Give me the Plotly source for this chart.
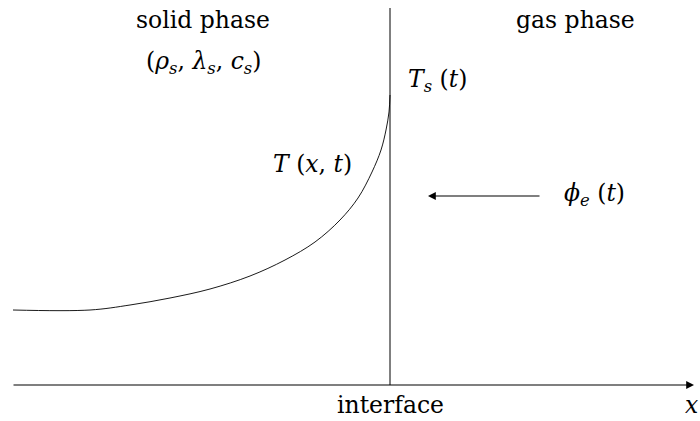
import plotly.graph_objects as go

# Temperature profile T(x,t) in the solid (schematic coordinates)
curve_x = [13, 90, 130, 170, 210, 250, 285, 315, 340, 358, 372, 381, 386, 389, 390]
curve_y = [310, 310, 305, 298, 289, 276, 260, 242, 220, 198, 172, 150, 130, 112, 95]

interface_x = [390, 390]
interface_y = [8, 385]

axis_start = (12, 385)
axis_end = (694, 385)
flux_start = (541, 196)
flux_end = (428, 196)

labels = [
    ("solid phase", 203, 20),
    ("(<i>ρ<sub>s</sub></i>, <i>λ<sub>s</sub></i>, <i>c<sub>s</sub></i>)", 203, 62),
    ("gas phase", 575, 20),
    ("<i>T<sub>s</sub></i> (<i>t</i>)", 437, 80),
    ("<i>T</i> (<i>x</i>, <i>t</i>)", 312, 164),
    ("<i>ϕ<sub>e</sub></i> (<i>t</i>)", 594, 194),
    ("interface", 390, 405),
    ("<i>x</i>", 691, 405),
]

FONT = "DejaVu Serif"
SIZE = 23.5

fig = go.Figure()
fig.add_trace(go.Scatter(x=curve_x, y=curve_y, mode="lines",
                         line=dict(color="black", width=0.9), line_shape="spline",
                         hoverinfo="skip"))
fig.add_trace(go.Scatter(x=interface_x, y=interface_y, mode="lines",
                         line=dict(color="black", width=1), hoverinfo="skip"))

for (x1, y1), (x0, y0) in [(axis_end, axis_start), (flux_end, flux_start)]:
    fig.add_annotation(x=x1, y=y1, ax=x0, ay=y0, xref="x", yref="y", axref="x", ayref="y",
                       showarrow=True, arrowhead=2, arrowsize=1.3, arrowwidth=1.2,
                       arrowcolor="black", text="", font=dict(family=FONT, size=SIZE))

for txt, x, y in labels:
    fig.add_annotation(x=x, y=y, xref="x", yref="y", text=txt, showarrow=False,
                       font=dict(family=FONT, size=SIZE, color="black"),
                       xanchor="center", yanchor="middle")

fig.update_layout(
    width=700, height=421, margin=dict(l=0, r=0, t=0, b=0),
    paper_bgcolor="white", plot_bgcolor="white", showlegend=False,
    font=dict(family=FONT, size=SIZE, color="black"),
    xaxis=dict(range=[0, 700], visible=False, fixedrange=True),
    yaxis=dict(range=[421, 0], visible=False, fixedrange=True),
)
fig.write_html("out.html", config={"displayModeBar": False},
               post_script="document.body.style.margin='0';document.body.style.overflow='hidden';")
